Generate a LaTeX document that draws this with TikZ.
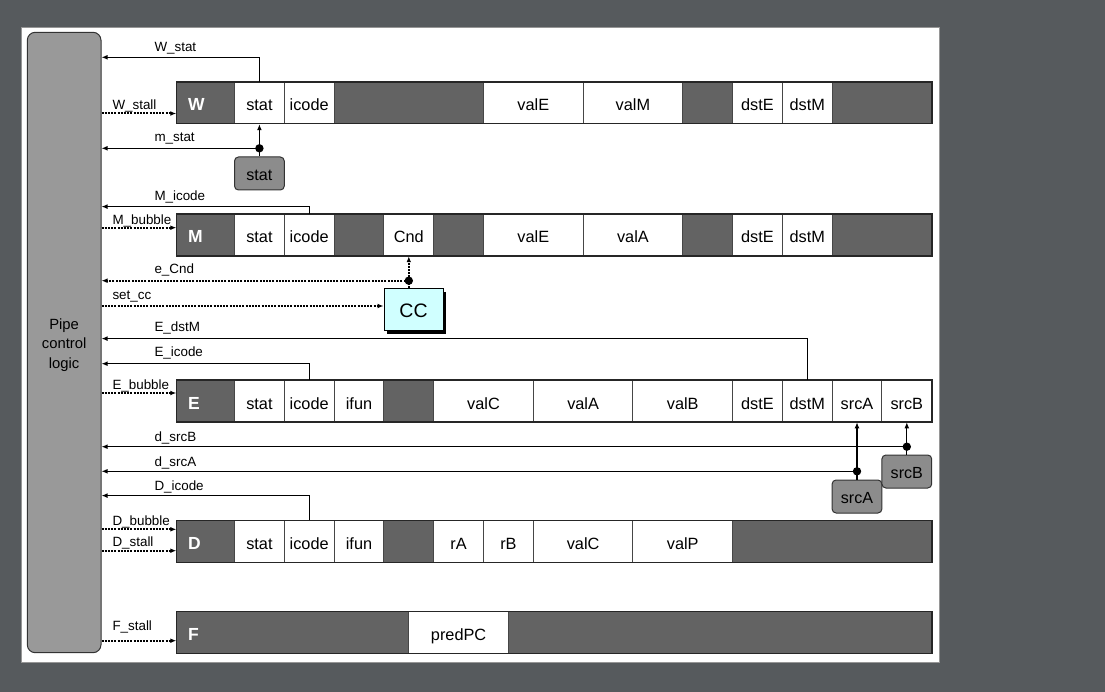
\documentclass[tikz,border=0pt]{standalone}
\usepackage{fontspec}
\setmainfont{Liberation Sans}
\usetikzlibrary{arrows.meta,calc,shadows}
\definecolor{bgc}{RGB}{86,90,93}
\definecolor{panelline}{RGB}{150,150,150}
\definecolor{darkcell}{RGB}{99,99,99}
\definecolor{pipegray}{RGB}{153,153,153}
\definecolor{boxgray}{RGB}{140,140,140}
\definecolor{ccfill}{RGB}{208,255,255}
\definecolor{sepline}{RGB}{70,70,70}
\tikzset{
  rowbar/.style={fill=darkcell, draw=none, minimum width=755.2pt, minimum height=41.5pt, inner sep=0pt},
  rowedge/.style={draw=black!85, line width=1.2pt},
  cell/.style={draw=sepline, fill=white, line width=1pt, minimum width=49.8pt, minimum height=41.5pt,
               inner sep=0pt, font=\fontsize{16.3}{18}\selectfont, text height=16pt, text depth=0pt},
  wide/.style={minimum width=99.6pt},
  rowlabel/.style={anchor=base west, inner sep=0pt, text=white, font=\fontsize{17.5}{20}\selectfont\bfseries},
  sigtext/.style={anchor=base west, inner sep=0pt, font=\fontsize{13.4}{15}\selectfont},
  graybox/.style={draw=black!80, fill=boxgray, line width=1pt, rounded corners=4pt, minimum width=49.8pt,
                  minimum height=33pt, inner sep=0pt, font=\fontsize{16.1}{18}\selectfont, text height=13.3pt, text depth=0pt},
  pipebox/.style={draw=black!80, fill=pipegray, line width=1pt, rounded corners=8pt, minimum width=73.7pt,
                  minimum height=620.4pt, inner sep=0pt},
  pipetext/.style={align=center, inner sep=0pt, font=\fontsize{14.8}{19.5}\selectfont},
  ccbox/.style={draw=black, fill=ccfill, line width=1pt, minimum width=59pt, minimum height=42pt, inner sep=0pt,
                font=\fontsize{19.5}{22}\selectfont, text height=15.4pt, text depth=0pt,
                drop shadow={shadow xshift=3.3pt, shadow yshift=-3.3pt, fill=black, opacity=1}},
  sig/.style={draw=black, line width=1.15pt, -{Latex[length=6pt,width=4.8pt]}},
  dsig/.style={draw=black, line width=2pt, dash pattern=on 2pt off 1.2pt, -{Latex[length=6pt,width=4.8pt]}},
  dsigline/.style={draw=black, line width=2pt, dash pattern=on 2pt off 1.2pt},
  junction/.style={fill=black}
}
\begin{document}
\begin{tikzpicture}[x=1pt,y=-1pt]
\fill[bgc] (0,0) rectangle (1105,692);
\useasboundingbox (0,0) rectangle (1105,692);
\draw[panelline, line width=1.2pt, fill=white] (21.5,27.5) rectangle (939.5,662.5);

% pipe control logic
\node[pipebox] (pipe) at (64.15,342.5) {};
\node[pipetext] (pipelabel) at (64.15,345) {Pipe\\control\\logic};

% ---------- W row ----------
\node[rowbar] (Wrow) at (554.1,102.9) {};
\node[cell] (Wstat) at (259.4,102.9) {stat};
\node[cell] (Wicode) at (309.2,102.9) {icode};
\node[cell,wide] (WvalE) at (533.3,102.9) {valE};
\node[cell,wide] (WvalM) at (632.9,102.9) {valM};
\node[cell] (WdstE) at (757.4,102.9) {dstE};
\node[cell] (WdstM) at (807.2,102.9) {dstM};
\draw[rowedge] (Wrow.north west) rectangle (Wrow.south east);
\node[rowlabel] (Wl) at (188,110.9) {W};

% ---------- M row ----------
\node[rowbar] (Mrow) at (554.1,235) {};
\node[cell] (Mstat) at (259.4,235) {stat};
\node[cell] (Micode) at (309.2,235) {icode};
\node[cell] (MCnd) at (408.8,235) {Cnd};
\node[cell,wide] (MvalE) at (533.3,235) {valE};
\node[cell,wide] (MvalA) at (632.9,235) {valA};
\node[cell] (MdstE) at (757.4,235) {dstE};
\node[cell] (MdstM) at (807.2,235) {dstM};
\draw[rowedge] (Mrow.north west) rectangle (Mrow.south east);
\node[rowlabel] (Ml) at (188,243) {M};

% ---------- E row ----------
\node[rowbar] (Erow) at (554.1,401) {};
\node[cell] (Estat) at (259.4,401) {stat};
\node[cell] (Eicode) at (309.2,401) {icode};
\node[cell] (Eifun) at (359.0,401) {ifun};
\node[cell,wide] (EvalC) at (483.5,401) {valC};
\node[cell,wide] (EvalA) at (583.1,401) {valA};
\node[cell,wide] (EvalB) at (682.7,401) {valB};
\node[cell] (EdstE) at (757.4,401) {dstE};
\node[cell] (EdstM) at (807.2,401) {dstM};
\node[cell] (EsrcA) at (857.0,401) {srcA};
\node[cell] (EsrcB) at (906.8,401) {srcB};
\draw[rowedge] (Erow.north west) rectangle (Erow.south east);
\node[rowlabel] (El) at (188,409) {E};

% ---------- D row ----------
\node[rowbar] (Drow) at (554.1,541.7) {};
\node[cell] (Dstat) at (259.4,541.7) {stat};
\node[cell] (Dicode) at (309.2,541.7) {icode};
\node[cell] (Difun) at (359.0,541.7) {ifun};
\node[cell] (DrA) at (458.6,541.7) {rA};
\node[cell] (DrB) at (508.4,541.7) {rB};
\node[cell,wide] (DvalC) at (583.1,541.7) {valC};
\node[cell,wide] (DvalP) at (682.7,541.7) {valP};
\draw[rowedge] (Drow.north west) rectangle (Drow.south east);
\node[rowlabel] (Dl) at (188,549.7) {D};

% ---------- F row ----------
\node[rowbar] (Frow) at (554.1,632.7) {};
\node[cell,wide] (FpredPC) at (458.6,632.7) {predPC};
\draw[rowedge] (Frow.north west) rectangle (Frow.south east);
\node[rowlabel] (Fl) at (188,640.7) {F};

% ---------- other boxes ----------
\node[graybox] (mstat) at (259.4,173.5) {stat};
\node[graybox] (srcAbox) at (857.0,496.5) {srcA};
\node[graybox] (srcBbox) at (906.8,471.5) {srcB};
\node[ccbox] (CC) at (413.5,310) {CC};

% ---------- signal levels ----------
\coordinate (yWstat) at (0,57.3);
\coordinate (yWstall) at (0,113.5);
\coordinate (ymstat) at (0,148.3);
\coordinate (yMicode) at (0,206.6);
\coordinate (yMbub) at (0,227.7);
\coordinate (yeCnd) at (0,280.7);
\coordinate (ysetcc) at (0,306);
\coordinate (yEdstM) at (0,338.6);
\coordinate (yEicode) at (0,363.7);
\coordinate (yEbub) at (0,393);
\coordinate (ydsrcB) at (0,446.7);
\coordinate (ydsrcA) at (0,471.3);
\coordinate (yDicode) at (0,495.6);
\coordinate (yDbub) at (0,529.3);
\coordinate (yDstall) at (0,550.7);
\coordinate (yFstall) at (0,640.7);

% ---------- connectors ----------
\draw[sig] (Wstat.north) |- (pipe.east |- yWstat);
\draw[dsig] (pipe.east |- yWstall) -- (Wrow.west |- yWstall);
\coordinate (jm) at (mstat.north |- ymstat);
\draw[sig] (mstat.north) -- (Wstat.south);
\draw[sig] (jm) -- (pipe.east |- jm);
\fill[junction] (jm) circle[radius=4.2pt];

\draw[sig] (Micode.north) |- (pipe.east |- yMicode);
\draw[dsig] (pipe.east |- yMbub) -- (Mrow.west |- yMbub);

\coordinate (jc) at (MCnd.south |- yeCnd);
\draw[dsigline] (jc |- CC.north) -- (jc);
\draw[dsig] (jc) -- (MCnd.south);
\draw[dsig] (jc) -- (pipe.east |- jc);
\fill[junction] (jc) circle[radius=4.2pt];
\draw[dsig] (pipe.east |- ysetcc) -- (CC.west |- ysetcc);

\draw[sig] (EdstM.north) |- (pipe.east |- yEdstM);
\draw[sig] (Eicode.north) |- (pipe.east |- yEicode);
\draw[dsig] (pipe.east |- yEbub) -- (Erow.west |- yEbub);

\coordinate (jb) at (srcBbox.north |- ydsrcB);
\draw[sig] (srcBbox.north) -- (EsrcB.south);
\draw[sig] (jb) -- (pipe.east |- jb);
\fill[junction] (jb) circle[radius=4.2pt];
\coordinate (ja) at (srcAbox.north |- ydsrcA);
\draw[sig] (srcAbox.north) -- (EsrcA.south);
\draw[sig] (ja) -- (pipe.east |- ja);
\fill[junction] (ja) circle[radius=4.2pt];

\draw[sig] (Dicode.north) |- (pipe.east |- yDicode);
\draw[dsig] (pipe.east |- yDbub) -- (Drow.west |- yDbub);
\draw[dsig] (pipe.east |- yDstall) -- (Drow.west |- yDstall);
\draw[dsig] (pipe.east |- yFstall) -- (Frow.west |- yFstall);

% ---------- labels ----------
\node[sigtext] (lWstat) at (154.3,51.7) {W\_stat};
\node[sigtext] (lWstall) at (112.3,109.3) {W\_stall};
\node[sigtext] (lmstat) at (154.3,141.7) {m\_stat};
\node[sigtext] (lMicode) at (154.3,200.5) {M\_icode};
\node[sigtext] (lMbub) at (112.3,224.3) {M\_bubble};
\node[sigtext] (leCnd) at (154.3,273.3) {e\_Cnd};
\node[sigtext] (lsetcc) at (112.3,300) {set\_cc};
\node[sigtext] (lEdstM) at (154.3,331) {E\_dstM};
\node[sigtext] (lEicode) at (154.3,356.7) {E\_icode};
\node[sigtext] (lEbub) at (112.3,389) {E\_bubble};
\node[sigtext] (ldsrcB) at (154.3,441.7) {d\_srcB};
\node[sigtext] (ldsrcA) at (154.3,466.5) {d\_srcA};
\node[sigtext] (lDicode) at (154.3,490) {D\_icode};
\node[sigtext] (lDbub) at (112.3,525) {D\_bubble};
\node[sigtext] (lDstall) at (112.3,546.7) {D\_stall};
\node[sigtext] (lFstall) at (112.3,630.7) {F\_stall};
\end{tikzpicture}
\end{document}
